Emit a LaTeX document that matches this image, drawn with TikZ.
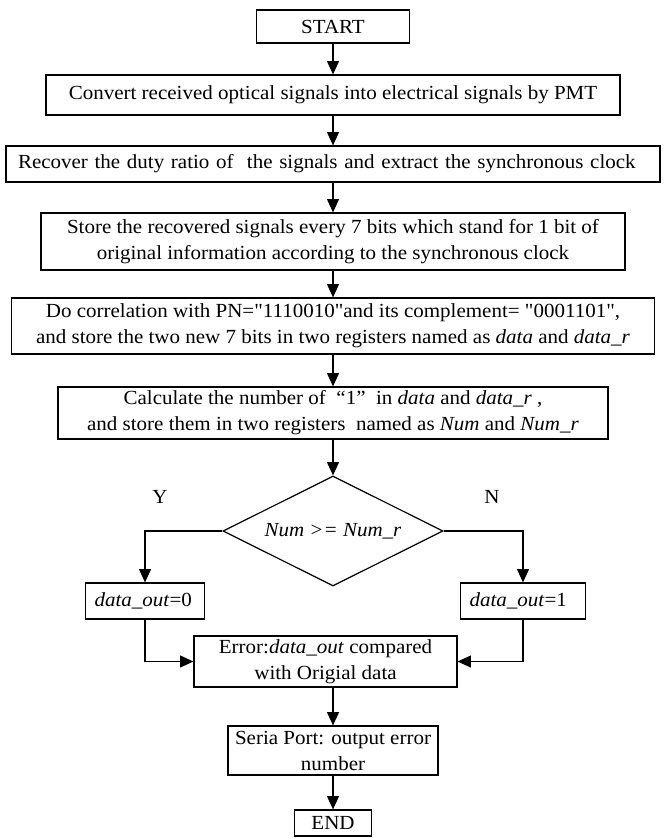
\documentclass[tikz,border=0pt]{standalone}
\usepackage{xcolor}
\usepackage{fontspec}
\setmainfont{Liberation Serif}[FakeStretch=1.05]
\newfontfamily\plainfont{Liberation Serif}[FakeStretch=1.05]
\newcommand\dq{{\plainfont"}}
\usepackage{tikz}
\usetikzlibrary{shapes.geometric,arrows.meta}

\begin{document}
\begin{tikzpicture}[x=0.75pt,y=0.75pt,yscale=-1,
  font=\fontsize{15}{19.5}\selectfont,
  box/.style={draw,line width=0.9pt,inner sep=0pt,align=center},
  decision/.style={draw,diamond,aspect=2,line width=0.9pt,inner sep=0pt},
  arr/.style={line width=0.9pt,-{Triangle[length=10pt,width=9pt]}}]
\useasboundingbox (0,0) rectangle (664,838);

%Shape: Rectangle [start]
\node [box,minimum width=114.75pt,minimum height=24.75pt] (start) at (333,26.5) {START};
%Shape: Rectangle [convert]
\node [box,minimum width=430.5pt,minimum height=30pt] (conv) at (333,95) {Convert received optical signals into electrical signals by PMT};
%Shape: Rectangle [recover]
\node [box,minimum width=490.5pt,minimum height=27pt,text width=472.5pt,align=left] (recov) at (333,164) {Recover the duty ratio of \ the signals and extract the synchronous clock};
%Shape: Rectangle [store]
\node [box,minimum width=438pt,minimum height=42.75pt] (store) at (333,241.5) {Store the recovered signals every 7 bits which stand for 1 bit of\\original information according to the synchronous clock};
%Shape: Rectangle [correlation]
\node [box,minimum width=482.25pt,minimum height=42pt] (corr) at (333,326) {Do correlation with PN=\dq1110010\dq and its complement= \dq0001101\dq,\\and store the two new 7 bits in two registers named as \textit{data} and \textit{data\_r}};
%Shape: Rectangle [calculate]
\node [box,minimum width=412.5pt,minimum height=39pt] (calc) at (333,413) {Calculate the number of \ “1” \ in \textit{data} and \textit{data\_r} ,\\and store them in two registers \ named as \textit{Num} and \textit{Num\_r}};
%Shape: Diamond [decision]
\node [decision,minimum width=165pt,minimum height=82.5pt] (dec) at (333,531) {\textit{Num >= Num\_r}};
%Shape: Rectangle [out 0]
\node [box,minimum width=89.25pt,minimum height=27pt,text width=75.75pt,align=left] (out0) at (145,601) {\textit{data\_out}=0};
%Shape: Rectangle [out 1]
\node [box,minimum width=93.75pt,minimum height=27pt,text width=80.25pt,align=left] (out1) at (523,601) {\textit{data\_out}=1};
%Shape: Rectangle [error]
\node [box,minimum width=197.25pt,minimum height=38.25pt] (err) at (325.5,661.5) {Error:\textit{data\_out} compared\\with Origial data};
%Shape: Rectangle [serial port]
\node [box,minimum width=157.5pt,minimum height=36.75pt] (seria) at (333,750.5) {Seria Port: output error\\number};
%Shape: Rectangle [end]
\node [box,minimum width=57.75pt,minimum height=19.5pt] (end) at (333,823) {END};

% Text Node
\node (ylab) at (160,497) {Y};
% Text Node
\node (nlab) at (492,497) {N};

%Straight Lines
\draw [arr] (start.south) -- (conv.north);
\draw [arr] (conv.south) -- (recov.north);
\draw [arr] (recov.south) -- (store.north);
\draw [arr] (store.south) -- (corr.north);
\draw [arr] (corr.south) -- (calc.north);
\draw [arr] (calc.south) -- (dec.north);
\draw [arr] (dec.west) -| (out0.north);
\draw [arr] (dec.east) -| (out1.north);
\draw [arr] (out0.south) |- (err.west);
\draw [arr] (out1.south) |- (err.east);
\draw [arr] (seria.north |- err.south) -- (seria.north);
\draw [arr] (seria.south) -- (end.north);

\end{tikzpicture}
\end{document}
